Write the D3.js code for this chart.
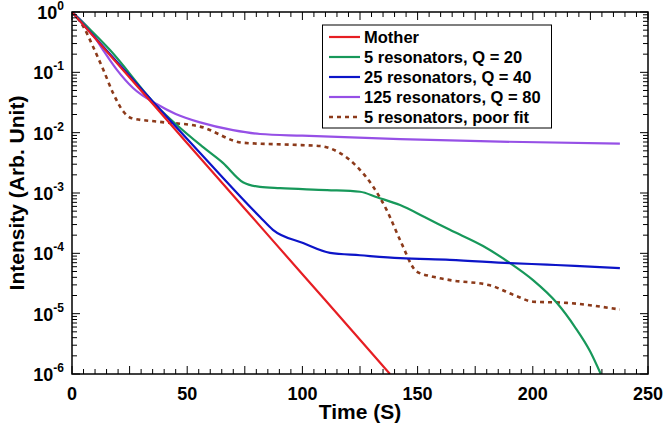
<!DOCTYPE html>
<html><head><meta charset="utf-8">
<script src="https://cdn.jsdelivr.net/npm/d3@7/dist/d3.min.js"></script>
<style>
html,body{margin:0;padding:0;background:#fff;}
text{font-family:"Liberation Sans",Arial,sans-serif;font-weight:bold;}
</style></head>
<body><svg id="c" width="663" height="428"></svg>
<script>
// ---- data (time in s, intensity) ----
const motherT = [0, 25, 50, 75, 100, 125, 138];
const motherV = [1, 0.082, 6.7e-3, 5.5e-4, 4.5e-5, 3.7e-6, 1e-6];

const q20T = [0, 16.5, 36.9, 56.9, 65.5, 74.2, 81.6, 90.3, 110.7, 125, 132.4, 142.4, 153, 164, 178.4, 190.1, 200.1, 210.5, 218.3, 224.8, 229.5];
const q20V = [1, 0.234, 0.0275, 5.75e-3, 3.16e-3, 1.51e-3, 1.26e-3, 1.2e-3, 1.12e-3, 1.05e-3, 8.5e-4, 6.3e-4, 4.0e-4, 2.45e-4, 1.32e-4, 6.9e-5, 3.6e-5, 1.5e-5, 6.0e-6, 2.4e-6, 1e-6];

const q40T = [0, 36.9, 55.6, 81.6, 87.2, 100.3, 112, 125, 142.4, 164, 190.1, 206.2, 218.3, 237.8];
const q40V = [1, 0.0275, 4.6e-3, 4.0e-4, 2.45e-4, 1.48e-4, 1.02e-4, 9.3e-5, 8.3e-5, 7.8e-5, 6.9e-5, 6.5e-5, 6.2e-5, 5.7e-5];

const q80T = [0, 7.8, 13.5, 19.5, 26.5, 36.9, 45, 55.6, 69.9, 81.6, 100, 142.4, 185.8, 237.8];
const q80V = [1, 0.5, 0.234, 0.11, 0.055, 0.0295, 0.0204, 0.0148, 0.011, 9.5e-3, 8.9e-3, 7.8e-3, 7.1e-3, 6.6e-3];

const poorT = [0, 4.9, 9.2, 13.6, 17.9, 22.3, 25.9, 38.2, 55.6, 74.2, 95.9, 107.6, 116.3, 123.6, 130.8, 136.6, 142.4, 149.6, 156.7, 164.1, 181.4, 193, 200.1, 214.8, 237.8];
const poorV = [1, 0.575, 0.263, 0.11, 0.0447, 0.0224, 0.0174, 0.0151, 0.0126, 6.8e-3, 6.3e-3, 6.0e-3, 4.6e-3, 2.75e-3, 1.26e-3, 5.2e-4, 1.66e-4, 5.0e-5, 4.1e-5, 3.6e-5, 2.95e-5, 1.95e-5, 1.58e-5, 1.51e-5, 1.17e-5];

const seriesNames = ["Mother", "5 resonators, Q = 20", "25 resonators, Q = 40", "125 resonators, Q = 80", "5 resonators, poor fit"];
const seriesColors = ["#e61e23", "#17985a", "#0c14c8", "#9650e6", "#8c3a1a"];
const xTickValues = [0, 50, 100, 150, 200, 250];
const yTickExps = [0, -1, -2, -3, -4, -5, -6];

// ---- layout ----
const svg = d3.select("#c");
const L = 72, R = 648, T = 12, B = 374;
const x = d3.scaleLinear().domain([0, 250]).range([L, R]);
const y = d3.scaleLog().domain([1e-6, 1]).range([B, T]);

const series = [
  {t: motherT, v: motherV},
  {t: q20T, v: q20V},
  {t: q40T, v: q40V},
  {t: q80T, v: q80V},
  {t: poorT, v: poorV}
];

svg.append("defs").append("clipPath").attr("id", "clip")
  .append("rect").attr("x", L).attr("y", T).attr("width", R - L).attr("height", B - T);

const line = d3.line().x(d => x(d[0])).y(d => y(d[1])).curve(d3.curveMonotoneX);
const g = svg.append("g").attr("clip-path", "url(#clip)");
[3, 4, 1, 2, 0].forEach(i => {
  const s = series[i];
  const pts = s.t.map((t, k) => [t, s.v[k]]);
  g.append("path").attr("d", line(pts)).attr("fill", "none")
    .attr("stroke", seriesColors[i])
    .attr("stroke-width", i === 4 ? 2.6 : 2.2)
    .attr("stroke-dasharray", i === 4 ? "4,4" : null);
});

// ---- ticks ----
const ax = svg.append("g").attr("stroke", "#000").attr("stroke-width", 1);
const xMinor = d3.range(0, 251, 5);
xMinor.forEach(v => {
  const len = (v % 25 === 0) ? 8 : 5;
  ax.append("line").attr("x1", x(v)).attr("x2", x(v)).attr("y1", B).attr("y2", B - len);
  ax.append("line").attr("x1", x(v)).attr("x2", x(v)).attr("y1", T).attr("y2", T + len);
});
for (let e = -6; e <= 0; e++) {
  const base = Math.pow(10, e);
  [L, R].forEach(xx => {
    const dir = xx === L ? 1 : -1;
    ax.append("line").attr("x1", xx).attr("x2", xx + dir * 8).attr("y1", y(base)).attr("y2", y(base));
    if (e < 0) {
      for (let m = 2; m <= 9; m++) {
        const yy = y(base * m);
        ax.append("line").attr("x1", xx).attr("x2", xx + dir * 5).attr("y1", yy).attr("y2", yy);
      }
    }
  });
}
svg.append("rect").attr("x", L).attr("y", T).attr("width", R - L).attr("height", B - T)
  .attr("fill", "none").attr("stroke", "#000").attr("stroke-width", 1.5);

// ---- tick labels ----
xTickValues.forEach(v => {
  svg.append("text").attr("x", x(v)).attr("y", 400).attr("text-anchor", "middle")
    .attr("font-size", 18).text(v);
});
yTickExps.forEach(e => {
  const t = svg.append("text").attr("x", 64).attr("y", y(Math.pow(10, e)) + 7)
    .attr("text-anchor", "end").attr("font-size", 18);
  t.append("tspan").text("10");
  t.append("tspan").attr("font-size", 12).attr("dy", -9).text(e);
});

// ---- axis titles ----
svg.append("text").attr("x", (L + R) / 2).attr("y", 419).attr("text-anchor", "middle")
  .attr("font-size", 21).text("Time (S)");
svg.append("text").attr("transform", `translate(24,${(T + B) / 2}) rotate(-90)`)
  .attr("text-anchor", "middle").attr("font-size", 21).text("Intensity (Arb. Unit)");

// ---- legend ----
const lg = svg.append("g");
lg.append("rect").attr("x", 322.5).attr("y", 25).attr("width", 229).attr("height", 103)
  .attr("fill", "#fff").attr("stroke", "#000").attr("stroke-width", 1);
seriesNames.forEach((n, i) => {
  const yy = 37 + i * 20;
  lg.append("line").attr("x1", 329).attr("x2", 360).attr("y1", yy).attr("y2", yy)
    .attr("stroke", seriesColors[i]).attr("stroke-width", i === 4 ? 2.6 : 2.2)
    .attr("stroke-dasharray", i === 4 ? "4,4" : null);
  lg.append("text").attr("x", 364).attr("y", yy + 6).attr("font-size", 16.5).text(n);
});
</script></body></html>
